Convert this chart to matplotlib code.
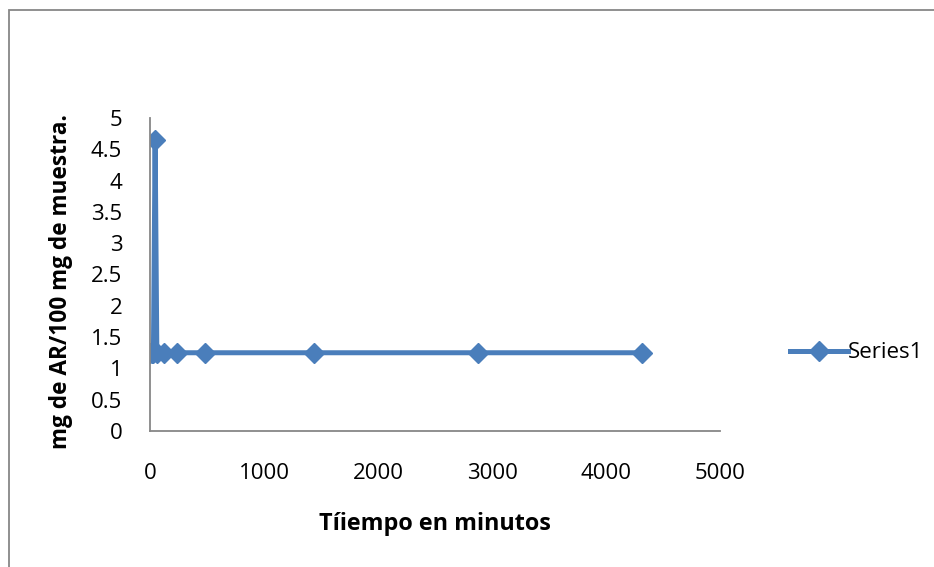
import matplotlib
matplotlib.use("Agg")
import matplotlib.pyplot as plt
from matplotlib.patches import Rectangle

# Reducing sugars over time
tiempo_min = [0, 15, 30, 45, 60, 120, 240, 480, 1440, 2880, 4320]
mg_ar = [1.25, 1.25, 1.25, 4.65, 1.25, 1.25, 1.25, 1.25, 1.25, 1.25, 1.25]
serie = "Series1"
x_ticks = [0, 1000, 2000, 3000, 4000, 5000]
y_ticks = [0, 0.5, 1, 1.5, 2, 2.5, 3, 3.5, 4, 4.5, 5]

plt.rcParams['font.family'] = ['Open Sans', 'DejaVu Sans']
blue = '#4A7EBB'
gray = '#878787'
fs = 16

fig = plt.figure(figsize=(9.34, 5.67), dpi=100)
fig.patches.append(Rectangle((9 / 934, -0.1), 1.2, 1 - 10 / 567 + 0.1,
                             transform=fig.transFigure, fill=False,
                             edgecolor=gray, linewidth=1.3))

ax = fig.add_axes([150 / 934, 1 - 431 / 567, 570 / 934, 313 / 567])
ax.plot(tiempo_min, mg_ar, color=blue, linewidth=3.6, marker='D',
        markersize=10, markeredgecolor=blue, markerfacecolor=blue,
        label=serie, solid_joinstyle='miter')

ax.set_xlim(0, 5000)
ax.set_ylim(0, 5)
ax.set_xticks(x_ticks)
ax.set_yticks(y_ticks)
ax.set_yticklabels([f"{v:g}" for v in y_ticks])
ax.tick_params(length=0, labelsize=fs)
ax.tick_params(axis='x', pad=23)
ax.tick_params(axis='y', pad=20)
for s in ['top', 'right']:
    ax.spines[s].set_visible(False)
for s in ['left', 'bottom']:
    ax.spines[s].set_color(gray)
    ax.spines[s].set_linewidth(1.3)

ax.set_xlabel("Tíiempo en minutos", fontsize=16.8, fontweight='bold', labelpad=20)
ax.set_ylabel("mg de AR/100 mg de muestra.", fontsize=16.3, fontweight='bold')
ax.yaxis.set_label_coords(-0.135, 0.476)

leg = fig.legend(loc='center left', bbox_to_anchor=(790 / 934, 1 - 353 / 567),
                 frameon=False, fontsize=fs, handlelength=2.6,
                 handletextpad=0.0, borderpad=0, borderaxespad=0)

fig.savefig("out.png", dpi=100)
